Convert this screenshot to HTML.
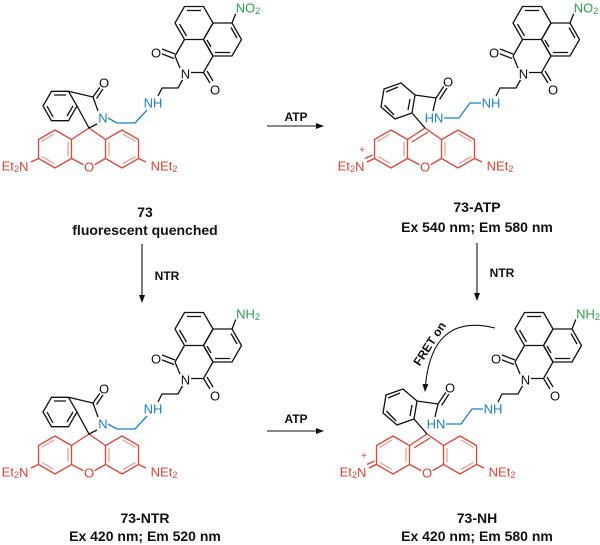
<!DOCTYPE html>
<html><head><meta charset="utf-8"><style>
html,body{margin:0;padding:0;background:#fff;}
svg{display:block;}
text{font-family:"Liberation Sans",sans-serif;}
.a{font-size:13px;dominant-baseline:central;text-anchor:middle;paint-order:stroke;stroke:#fff;stroke-width:3px;}
.r{fill:#d9463a}.b{fill:#1f7fc0}.g{fill:#2e9b4e}.k{fill:#111}
.lab{font-size:14px;font-weight:bold;text-anchor:middle;fill:#111}
.sm{font-size:12px;font-weight:bold;text-anchor:middle;fill:#111}
</style></head><body>
<svg width="600" height="545" viewBox="0 0 600 545" xmlns="http://www.w3.org/2000/svg">
<defs>
<marker id="ah" markerWidth="8" markerHeight="8" refX="7" refY="4" orient="auto" markerUnits="userSpaceOnUse"><path d="M0,1 L8,4 L0,7 z" fill="#111"/></marker>
<g id="naph" fill="none" stroke="#111" stroke-width="1.3">
<polygon points="184.5,6.5 203.5,6.5 213,23 203.5,39.5 184.5,39.5 175,23"/>
<polygon points="213,23 232,23 241.5,39.5 232,56 213,56 203.5,39.5"/>
<path d="M187,10.5 L201,10.5 M179.5,24 L186.5,36 M231,27.5 L237,38 M215,52.5 L230,52.5 M207,40 L211,47"/>
<path d="M175,56 L184.5,39.5 M203.5,39.5 L213,56 L203.5,72.5 L191,72.5 M180,68 L175,56"/>
<path d="M175,54 L162,49 M174,58.5 L161,53.5"/>
<path d="M203.5,72.5 L210,83 M207,71 L213,81"/>
<path d="M183,79 L178,88 L162,88 L158,96"/>
</g>
<g id="xan" fill="none" stroke="#d9463a" stroke-width="1.3">
<polygon points="55,130 71.5,139.5 71.5,158.5 55,168 38.5,158.5 38.5,139.5"/>
<polygon points="122,130 138.5,139.5 138.5,158.5 122,168 105.5,158.5 105.5,139.5"/>
<path d="M71.5,139.5 L89,128 L105.5,139.5 M71.5,158.5 L84,165 M94,165 L105.5,158.5"/>
<path d="M38.5,158.5 L31,162 M138.5,158.5 L146,162"/>
<path stroke="#e8a09a" d="M54,134 L41.5,141.5 M42,156.5 L54,163.5 M68,142 L68,156 M123,134 L135.5,141.5 M109,142 L109,156 M123,163.5 L135.5,156.5"/>
</g>
</defs>

<!-- Molecule 73 (top-left) -->
<g id="m73">
<use href="#naph"/>
<use href="#xan"/>
<g fill="none" stroke="#111" stroke-width="1.3">
<polygon points="51.5,91.3 68.5,91.3 77,106 68.5,120.7 51.5,120.7 43,106"/>
<path d="M54,95 L66,95 M47,106 L53,117 M73,106 L67,116"/>
<path d="M68.5,91.3 L93,97 L98,111 M97,124 L89,128 L77,106"/>
<path d="M93,97 L100,87 M96.5,98.5 L103,89"/>
</g>
<path d="M147,110 L135,123 L117,123 L108,118" fill="none" stroke="#1f7fc0" stroke-width="1.3"/>
<text class="a k" x="104" y="83">O</text>
<text class="a b" x="103" y="118">N</text>
<text class="a b" x="153" y="103">NH</text>
<text class="a k" x="156" y="53">O</text>
<text class="a k" x="215" y="90">O</text>
<text class="a k" x="185.5" y="74">N</text>
<text class="a r" x="89" y="167">O</text>
<text class="a r" x="15" y="166">Et<tspan font-size="9" dy="3">2</tspan><tspan dy="-3">N</tspan></text>
<text class="a r" x="164" y="166">NEt<tspan font-size="9" dy="3">2</tspan></text>
</g>
<path d="M232,23 L236,13" stroke="#111" stroke-width="1.3"/>
<text class="a g" x="248" y="8">NO<tspan font-size="9" dy="3">2</tspan></text>

<!-- 73-ATP -->
<g transform="translate(336,0)">
<use href="#naph" transform="translate(2,0)"/>
<use href="#xan"/>
<g fill="none" stroke="#111" stroke-width="1.3">
<polygon points="79,95 76,113 59,119 45,107 48,89 65,83"/>
<path d="M62,87 L50,92 M48.5,105 L58,115 M74,99 L72,110"/>
<path d="M79,95 L100,98 L97,111 M100,98 L108,86 M103.5,99.5 L111,88 M76,113 L89,128"/>
</g>
<path d="M92,132 L76,142" stroke="#d9463a" stroke-width="1.3"/>
<path d="M38.5,158.5 L31,162 M36.5,155 L29,158.5" stroke="#d9463a" stroke-width="1.3"/>
<path d="M108,118 L123,118 L134,103 L146,103" fill="none" stroke="#1f7fc0" stroke-width="1.3"/>
<text class="a k" x="112" y="82">O</text>
<text class="a b" x="98" y="118">HN</text>
<text class="a b" x="155" y="103">NH</text>
<text class="a k" x="158" y="53">O</text>
<text class="a k" x="217" y="90">O</text>
<text class="a k" x="187.5" y="74">N</text>
<text class="a r" x="89" y="167">O</text>
<text class="a r" x="15" y="166">Et<tspan font-size="9" dy="3">2</tspan><tspan dy="-3">N</tspan></text>
<text class="r" x="26" y="153" font-size="10" text-anchor="middle">+</text>
<text class="a r" x="164" y="166">NEt<tspan font-size="9" dy="3">2</tspan></text>
<path d="M234,23 L238,13" stroke="#111" stroke-width="1.3"/>
<text class="a g" x="250" y="8">NO<tspan font-size="9" dy="3">2</tspan></text>
</g>

<!-- bottom-left 73-NTR -->
<g transform="translate(0,306)">
<use href="#m73"/>
<path d="M232,23 L236,13" stroke="#111" stroke-width="1.3"/>
<text class="a g" x="248" y="8">NH<tspan font-size="9" dy="3">2</tspan></text>
</g>

<!-- bottom-right 73-NH -->
<g transform="translate(338,306)">
<use href="#naph" transform="translate(2,0)"/>
<use href="#xan"/>
<g fill="none" stroke="#111" stroke-width="1.3">
<polygon points="79,95 76,113 59,119 45,107 48,89 65,83"/>
<path d="M62,87 L50,92 M48.5,105 L58,115 M74,99 L72,110"/>
<path d="M79,95 L100,98 L97,111 M100,98 L108,86 M103.5,99.5 L111,88 M76,113 L89,128"/>
</g>
<path d="M92,132 L76,142" stroke="#d9463a" stroke-width="1.3"/>
<path d="M38.5,158.5 L31,162 M36.5,155 L29,158.5" stroke="#d9463a" stroke-width="1.3"/>
<path d="M108,118 L123,118 L134,103 L146,103" fill="none" stroke="#1f7fc0" stroke-width="1.3"/>
<text class="a k" x="112" y="82">O</text>
<text class="a b" x="98" y="118">HN</text>
<text class="a b" x="155" y="103">NH</text>
<text class="a k" x="158" y="53">O</text>
<text class="a k" x="217" y="90">O</text>
<text class="a k" x="187.5" y="74">N</text>
<text class="a r" x="89" y="167">O</text>
<text class="a r" x="15" y="166">Et<tspan font-size="9" dy="3">2</tspan><tspan dy="-3">N</tspan></text>
<text class="r" x="26" y="153" font-size="10" text-anchor="middle">+</text>
<text class="a r" x="164" y="166">NEt<tspan font-size="9" dy="3">2</tspan></text>
<path d="M234,23 L238,13" stroke="#111" stroke-width="1.3"/>
<text class="a g" x="250" y="8">NH<tspan font-size="9" dy="3">2</tspan></text>
</g>

<!-- FRET arc -->
<path d="M495,328 Q430,312 425,391" fill="none" stroke="#111" stroke-width="1.1" marker-end="url(#ah)"/>
<text class="sm" x="0" y="0" transform="translate(433,346) rotate(-57)">FRET on</text>

<!-- arrows -->
<line x1="267" y1="126" x2="323" y2="126" stroke="#111" stroke-width="1.1" marker-end="url(#ah)"/>
<text class="sm" x="296" y="121">ATP</text>
<line x1="267" y1="431" x2="323" y2="431" stroke="#111" stroke-width="1.1" marker-end="url(#ah)"/>
<text class="sm" x="296" y="423">ATP</text>
<line x1="142" y1="244" x2="142" y2="302" stroke="#111" stroke-width="1.1" marker-end="url(#ah)"/>
<text class="sm" x="167" y="280">NTR</text>
<line x1="477" y1="243" x2="477" y2="300" stroke="#111" stroke-width="1.1" marker-end="url(#ah)"/>
<text class="sm" x="502" y="277">NTR</text>

<!-- labels -->
<text class="lab" x="145" y="217">73</text>
<text class="lab" x="145" y="235">fluorescent quenched</text>
<text class="lab" x="477" y="212">73-ATP</text>
<text class="lab" x="477" y="232">Ex 540 nm; Em 580 nm</text>
<text class="lab" x="145" y="523">73-NTR</text>
<text class="lab" x="145" y="541">Ex 420 nm; Em 520 nm</text>
<text class="lab" x="477" y="523">73-NH</text>
<text class="lab" x="477" y="541">Ex 420 nm; Em 580 nm</text>
</svg>
</body></html>
